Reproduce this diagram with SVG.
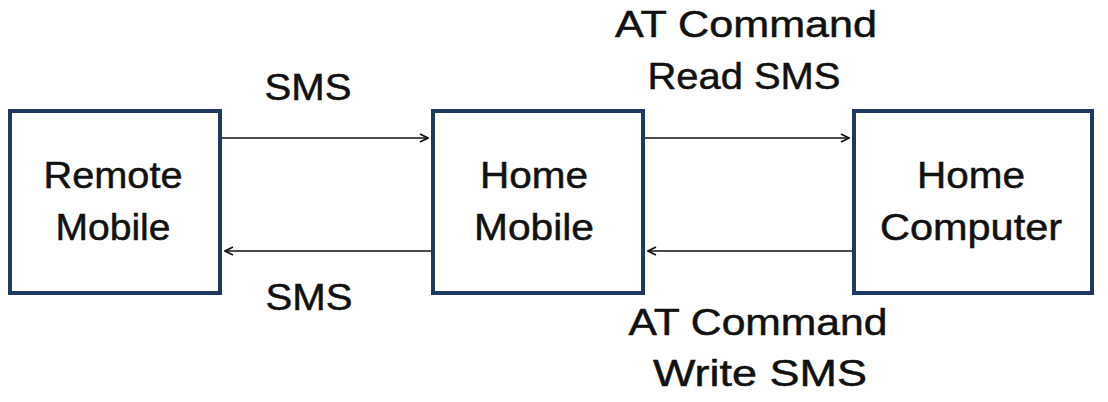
<svg xmlns="http://www.w3.org/2000/svg" width="1108" height="402" viewBox="0 0 1108 402">
  <style>
    .box { fill: #ffffff; stroke: #1f3a60; stroke-width: 4; }
    .lbl { font-family: "Liberation Sans", Arial, sans-serif; font-size: 37px; fill: #111111; stroke: #111111; stroke-width: 0.5; text-anchor: middle; }
    .link { stroke: #111111; stroke-width: 1.6; fill: none; marker-end: url(#arrow); }
  </style>
  <defs>
    <marker id="arrow" viewBox="0 0 10 10" refX="9" refY="5" markerWidth="10" markerHeight="10" markerUnits="userSpaceOnUse" orient="auto">
      <path d="M1,1 L9,5 L1,9" fill="none" stroke="#111111" stroke-width="1.6"/>
    </marker>
  </defs>
  <rect width="1108" height="402" fill="#ffffff"/>

  <g id="remote-mobile">
    <rect class="box" x="10" y="111" width="210" height="182"/>
    <text class="lbl" x="113" y="188" textLength="139" lengthAdjust="spacingAndGlyphs">Remote</text>
    <text class="lbl" x="113" y="240" textLength="115" lengthAdjust="spacingAndGlyphs">Mobile</text>
  </g>

  <g id="home-mobile">
    <rect class="box" x="433" y="111" width="210" height="182"/>
    <text class="lbl" x="534" y="188" textLength="108" lengthAdjust="spacingAndGlyphs">Home</text>
    <text class="lbl" x="534" y="240" textLength="120" lengthAdjust="spacingAndGlyphs">Mobile</text>
  </g>

  <g id="home-computer">
    <rect class="box" x="854" y="111" width="238" height="182"/>
    <text class="lbl" x="971" y="188" textLength="108" lengthAdjust="spacingAndGlyphs">Home</text>
    <text class="lbl" x="971" y="240" textLength="182" lengthAdjust="spacingAndGlyphs">Computer</text>
  </g>

  <g id="connectors">
    <line class="link" x1="222" y1="138" x2="428" y2="138"/>
    <line class="link" x1="431" y1="251" x2="225" y2="251"/>
    <line class="link" x1="645" y1="138" x2="849" y2="138"/>
    <line class="link" x1="852" y1="251" x2="648" y2="251"/>
  </g>

  <g id="labels">
    <text class="lbl" x="308" y="100" textLength="87" lengthAdjust="spacingAndGlyphs">SMS</text>
    <text class="lbl" x="309" y="310" textLength="87" lengthAdjust="spacingAndGlyphs">SMS</text>
    <text class="lbl" x="746" y="37" textLength="262" lengthAdjust="spacingAndGlyphs">AT Command</text>
    <text class="lbl" x="744" y="89" textLength="193" lengthAdjust="spacingAndGlyphs">Read SMS</text>
    <text class="lbl" x="758" y="335" textLength="259" lengthAdjust="spacingAndGlyphs">AT Command</text>
    <text class="lbl" x="760" y="386" textLength="214" lengthAdjust="spacingAndGlyphs">Write SMS</text>
  </g>
</svg>
